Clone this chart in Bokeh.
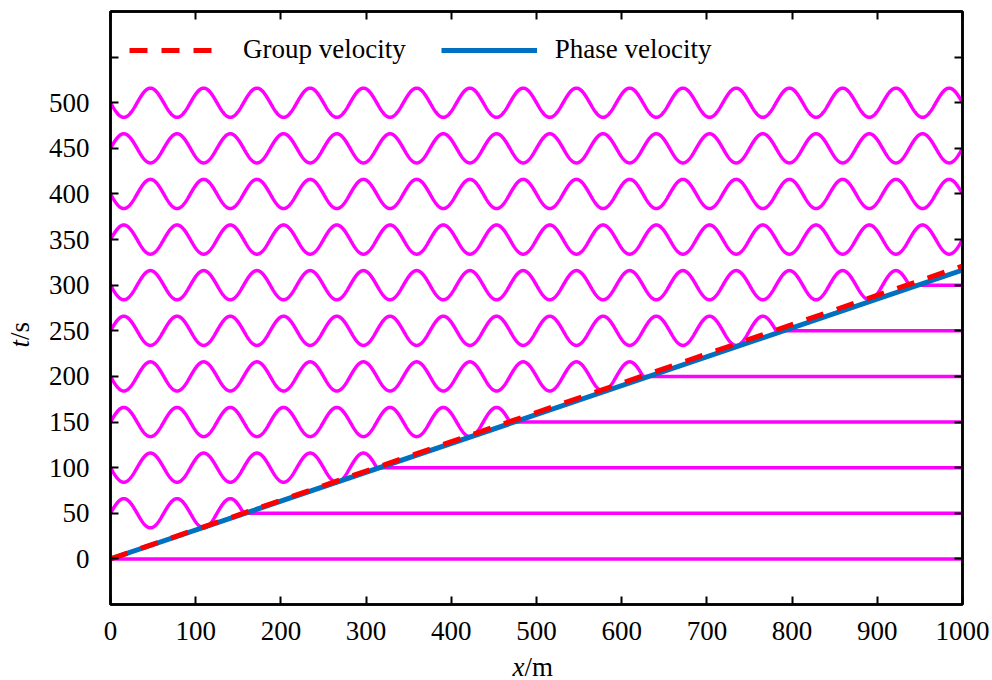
import numpy as np
from bokeh.plotting import figure
from bokeh.layouts import row, column
from bokeh.models import (Range1d, FixedTicker, LinearAxis, Legend, LegendItem, Label,
                          CustomLabelingPolicy)
from bokeh.embed import file_html
from bokeh.resources import INLINE

# ---- data ----
row_times = [0, 50, 100, 150, 200, 250, 300, 350, 400, 450, 500]   # t of each trace (s)
wave_amplitude = 16.0        # trace amplitude (in t units)
wavelength = 62.5            # m
wave_period = 100.0          # s (phase flips every 50 s)
front_speed = 3.125          # m/s, where each trace's wave ends
line_x = [0, 1000]
group_t = [0, 321]
phase_t = [0, 316.5]
x_ticks = [0, 100, 200, 300, 400, 500, 600, 700, 800, 900, 1000]
y_ticks = [0, 50, 100, 150, 200, 250, 300, 350, 400, 450, 500, 550]

FONT = "Liberation Serif"
FS = "27px"

p = figure(width=952, height=650, output_backend="svg", toolbar_location=None,
           x_range=Range1d(0, 1000), y_range=Range1d(-50, 600),
           min_border_left=70, min_border_right=30, min_border_top=11, min_border_bottom=46)
p.grid.visible = False
p.outline_line_color = "black"
p.outline_line_width = 2.5

# waves
xs = np.linspace(0, 1000, 4001)
for t in row_times:
    osc = wave_amplitude * np.sin(2 * np.pi * t / wave_period - 2 * np.pi * xs / wavelength)
    y = t + np.where(xs <= front_speed * t, osc, 0.0)
    p.line(xs, y, line_color="#FF00FF", line_width=3.5)

r_phase = p.line(line_x, phase_t, line_color="#0070C0", line_width=5)
r_group = p.line(line_x, group_t, line_color="#FF0000", line_width=5, line_dash="18 14")

no_labels = CustomLabelingPolicy(code="return []")

def style_axis(ax, labels=True):
    ax.axis_line_width = 2.5
    ax.axis_line_color = "black"
    ax.major_tick_in = 8
    ax.major_tick_out = 0
    ax.major_tick_line_width = 2
    ax.minor_tick_line_color = None
    ax.major_label_text_font = FONT
    ax.major_label_text_color = "black"
    if labels:
        ax.major_label_text_font_size = FS
    else:
        ax.major_label_text_font_size = "1px"
        ax.major_label_standoff = 0
        ax.major_label_policy = no_labels

xb = p.xaxis[0]
yl = p.yaxis[0]
xb.ticker = FixedTicker(ticks=x_ticks)
yl.ticker = FixedTicker(ticks=y_ticks)
style_axis(xb)
style_axis(yl)
# the 550 tick has no label
yl.major_label_policy = CustomLabelingPolicy(
    code="const ids = [...indices.ones()]; return ids.slice(0, ids.length - 1)")
xb.major_label_standoff = 17
yl.major_label_standoff = 21

xt = LinearAxis(ticker=FixedTicker(ticks=x_ticks))
yr = LinearAxis(ticker=FixedTicker(ticks=y_ticks))
style_axis(xt, labels=False)
style_axis(yr, labels=False)
p.add_layout(xt, "above")
p.add_layout(yr, "right")

legend = Legend(items=[LegendItem(label="Group velocity", renderers=[r_group]),
                       LegendItem(label="Phase velocity", renderers=[r_phase])],
                orientation="horizontal", location=(19, 539),
                glyph_width=96, glyph_height=20, label_standoff=18, spacing=35,
                padding=0, margin=0,
                label_text_font=FONT, label_text_font_size=FS, label_text_color="black",
                border_line_alpha=0, background_fill_alpha=0)
p.add_layout(legend)

# axis titles (italic variable + upright unit) in small blank panels
def blank(w, h):
    f = figure(width=w, height=h, output_backend="svg", toolbar_location=None,
               x_range=Range1d(0, 1), y_range=Range1d(0, 1),
               x_axis_type=None, y_axis_type=None, min_border=0)
    f.outline_line_color = None
    f.grid.visible = False
    return f

common = dict(x_units="screen", y_units="screen", text_font=FONT, text_font_size=FS,
              text_color="black", text_align="left", text_baseline="middle")

pb = blank(952, 30)
pb.add_layout(Label(x=402, y=14, text="x", text_font_style="italic", **common))
pb.add_layout(Label(x=414, y=14, text="/m", **common))

pl = blank(40, 680)
pl.add_layout(Label(x=19, y=333, text="t", text_font_style="italic", angle=np.pi / 2, **common))
pl.add_layout(Label(x=19, y=340.5, text="/s", angle=np.pi / 2, **common))

layout = row(pl, column(p, pb))

open("out.html", "w").write(file_html(layout, INLINE))
